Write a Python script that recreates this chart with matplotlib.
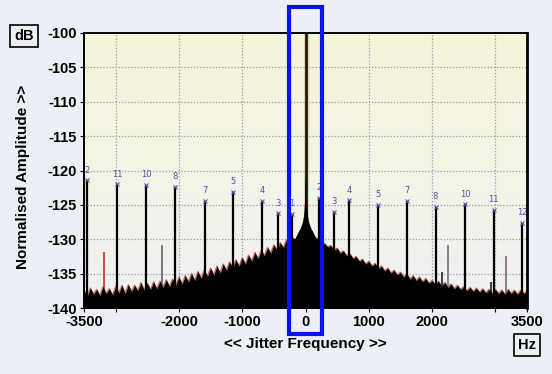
import matplotlib.pyplot as plt
import matplotlib.patches as patches
from matplotlib.colors import LinearSegmentedColormap
import numpy as np

# noise floor top edge, 50 Hz steps from -3500 to 3500
floor_freq = np.arange(-3500, 3501, 50)
floor_db = [
    -137.4, -138.3, -137.1, -138.0, -137.3, -138.2, -136.9, -137.9, -137.2, -138.1,
    -136.9, -137.8, -136.7, -137.9, -136.6, -137.6, -136.7, -137.5, -136.3, -137.4,
    -136.4, -137.3, -136.2, -137.2, -136.1, -137.0, -135.9, -136.9, -135.8, -136.7,
    -135.5, -136.5, -135.3, -136.2, -135.0, -136.0, -134.7, -135.7, -134.5, -135.4,
    -134.2, -135.2, -133.9, -134.9, -133.6, -134.5, -133.3, -134.2, -133.0, -133.9,
    -132.7, -133.6, -132.3, -133.2, -131.9, -132.8, -131.6, -132.4, -131.2, -132.0,
    -130.8, -131.6, -130.5, -131.2, -130.1, -130.8, -129.8, -130.1, -129.1, -128.6,
    -127.5,
    -128.6, -129.0, -129.9, -129.8, -130.7, -130.6, -131.1, -130.9, -131.6, -131.3,
    -132.0, -131.7, -132.4, -132.1, -132.8, -132.5, -133.2, -132.9, -133.6, -133.2,
    -133.9, -133.5, -134.3, -133.9, -134.6, -134.2, -134.9, -134.5, -135.2, -134.8,
    -135.5, -135.0, -135.8, -135.3, -136.0, -135.5, -136.2, -135.7, -136.4, -136.0,
    -136.6, -136.1, -136.8, -136.3, -137.0, -136.5, -137.2, -136.7, -137.3, -136.9,
    -137.5, -137.0, -137.6, -137.1, -137.7, -137.2, -137.8, -137.3, -137.9, -137.3,
    -137.9, -137.4, -138.0, -137.3, -137.9, -137.4, -138.0, -137.4, -137.9, -137.5,
]

# skirt of the carrier
peak_freq = [-200, -120, -80, -50, -30, -15, -5, 5, 15, 30, 50, 80, 120, 200]
peak_db = [-130.5, -129.0, -128.3, -127.5, -126.5, -124.5, -121.0,
           -121.0, -124.5, -126.5, -127.5, -128.3, -129.0, -130.5]
carrier_freq = 0
carrier_db = -100

# labelled jitter components
spike_freq = [-3450, -2980, -2520, -2055, -1595, -1140, -685, -430, -210,
              210, 445, 685, 1140, 1600, 2055, 2525, 2975, 3420]
spike_db = [-121.4, -122.0, -122.1, -122.4, -124.4, -123.1, -124.4, -126.2, -126.3,
            -124.0, -126.0, -124.3, -125.0, -124.4, -125.3, -124.9, -125.7, -127.6]
spike_lbl = ['2', '11', '10', '8', '7', '5', '4', '3', '1',
             '2', '3', '4', '5', '7', '8', '10', '11', '12']

# unlabelled lines
minor_freq = [-3190, -2265, 2160, 2250, 2935, 3170]
minor_db = [-131.8, -130.9, -134.7, -130.8, -136.2, -132.5]
minor_col = ['#c8442a', '#6a6a78', '#3a2a2a', '#7a7a88', '#3a2a2a', '#8a6a70']

yticks = [-100, -105, -110, -115, -120, -125, -130, -135, -140]
xticks = [-3500, -3000, -2000, -1000, 0, 1000, 2000, 3000, 3500]
xtick_lbl = ['-3500', '', '-2000', '-1000', '0', '1000', '2000', '', '3500']
gridx = [-3000, -2000, -1000, 0, 1000, 2000, 3000]

plt.rcParams['font.family'] = ['Liberation Sans', 'DejaVu Sans']

fig = plt.figure(figsize=(5.52, 3.74), dpi=100, facecolor='#edeff7')
ax = fig.add_axes([84 / 552, 66 / 374, 443 / 552, 275 / 374])

ax.set_xlim(-3500, 3500)
ax.set_ylim(-140, -100)

# pale yellow panel, fading down
cmap = LinearSegmentedColormap.from_list('bg', ['#eff0f4', '#f4f4e6', '#f4f4d8'])
ax.imshow(np.linspace(0, 1, 64).reshape(-1, 1), cmap=cmap, origin='lower',
          extent=[0, 1, 0, 1], transform=ax.transAxes, aspect='auto', zorder=0)

for y in yticks[1:-1]:
    ax.axhline(y, color='#9c98ac', lw=0.9, ls=(0, (1, 1.5)), zorder=1)
for x in gridx:
    ax.axvline(x, color='#9c98ac', lw=0.9, ls=(0, (1, 1.5)), zorder=1)

# carrier sits behind the floor so only its tip shows red
ax.vlines(carrier_freq, -140, carrier_db, color='#7a1a0c', lw=2.4, zorder=2.7)
ax.vlines(carrier_freq, -140, carrier_db, color='#2a0a06', lw=0.8, zorder=2.8)

# noise floor: faint red fringe under black fill
ax.plot(floor_freq, floor_db, color='#b8381c', lw=0.9, alpha=0.75, zorder=2)
ax.fill_between(floor_freq, -140, floor_db, color='black', lw=0, zorder=3)
ax.fill_between(peak_freq, -140, peak_db, color='black', lw=0, zorder=3)

ax.vlines(minor_freq, -140, minor_db, colors=minor_col, lw=1.3, zorder=2.5)

ax.vlines(spike_freq, -140, spike_db, color='black', lw=1.6, zorder=4)
ax.plot(spike_freq, spike_db, ls='none', marker='x', ms=3, mew=0.8,
        color='#5a4fa8', zorder=5)
for f, d, t in zip(spike_freq, spike_db, spike_lbl):
    ax.annotate(t, (f, d), xytext=(0, 4), textcoords='offset points',
                ha='center', va='bottom', fontsize=6, color='#5a4fa8',
                family='DejaVu Sans', zorder=5)

ax.set_yticks(yticks)
ax.set_yticklabels([str(v) for v in yticks])
ax.set_xticks(xticks)
ax.set_xticklabels(xtick_lbl)
ax.tick_params(axis='both', direction='out', length=3, width=0.8, colors='black',
               labelsize=10.5, pad=2)
for lbl in ax.get_xticklabels() + ax.get_yticklabels():
    lbl.set_fontweight('bold')

for s in ax.spines.values():
    s.set_color('black')
    s.set_linewidth(1.4)
    s.set_zorder(6)
ax.spines['right'].set_linewidth(2.0)

ax.set_xlabel('<< Jitter Frequency >>', fontsize=11, fontweight='bold')
ax.set_ylabel('Normalised Amplitude >>', fontsize=11, fontweight='bold')
ax.xaxis.set_label_coords(0.5, -0.105)
ax.yaxis.set_label_coords(-0.122, 0.476)

box = dict(boxstyle='square,pad=0.3', fc='none', ec='black', lw=1.2)
fig.text(24 / 552, 1 - 36 / 374, 'dB', ha='center', va='center', fontsize=10.5,
         fontweight='bold', bbox=box)
fig.text(527 / 552, 1 - 345 / 374, 'Hz', ha='center', va='center', fontsize=10.5,
         fontweight='bold', bbox=box)

# blue highlight around the carrier
ax.add_patch(patches.Rectangle((-265, -143.8), 530, 47.6, fill=False, ec='#0a12f2',
                               lw=3.0, clip_on=False, zorder=7))

fig.savefig('out.png', dpi=100, facecolor=fig.get_facecolor())
